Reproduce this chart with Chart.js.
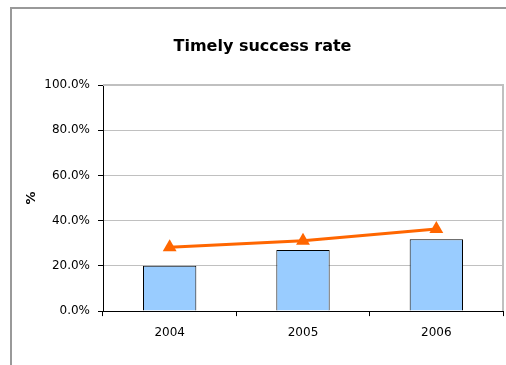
<!DOCTYPE html>
<html>
<head>
<meta charset="utf-8">
<script src="https://cdn.jsdelivr.net/npm/chart.js@4"></script>
<style>
  html, body { margin: 0; padding: 0; background: #fff; overflow: hidden; }
  canvas { display: block; }
</style>
</head>
<body>
<canvas id="chart" width="506" height="365"></canvas>
<script>
// Timely success rate, 2004-2006
const years = ['2004', '2005', '2006'];
const barValues = [20.1, 27.0, 31.8];
const lineValues = [28.2, 31.1, 36.3];
const yTicks = [0, 20, 40, 60, 80, 100];

const font = 'Tahoma, "DejaVu Sans", sans-serif';

// outer chart frame (gray, left + top) and light gray top/right plot border
const frames = {
  id: 'frames',
  beforeDraw(chart) {
    const c = chart.ctx;
    c.save();
    c.strokeStyle = '#999';
    c.lineWidth = 2;
    c.beginPath();
    c.moveTo(11, chart.height);
    c.lineTo(11, 8);
    c.lineTo(chart.width, 8);
    c.stroke();
    c.restore();
  },
  beforeDatasetsDraw(chart) {
    const a = chart.chartArea;
    const c = chart.ctx;
    c.save();
    c.strokeStyle = '#c0c0c0';
    c.lineWidth = 2;
    c.beginPath();
    c.moveTo(a.left, a.top);
    c.lineTo(a.right, a.top);
    c.lineTo(a.right, a.bottom);
    c.stroke();
    c.restore();
  }
};

new Chart(document.getElementById('chart'), {
  data: {
    labels: years,
    datasets: [
      {
        type: 'line',
        data: lineValues,
        borderColor: '#ff6600',
        backgroundColor: '#ff6600',
        borderWidth: 3,
        pointStyle: 'triangle',
        pointRadius: 8,
        pointHoverRadius: 8,
        pointBorderWidth: 0,
        tension: 0,
        order: 0
      },
      {
        type: 'bar',
        data: barValues,
        backgroundColor: '#99ccff',
        borderColor: '#000',
        borderWidth: 1,
        barPercentage: 0.4,
        categoryPercentage: 1,
        order: 1
      }
    ]
  },
  options: {
    responsive: false,
    animation: false,
    layout: { autoPadding: false, padding: { top: 0, right: 3, bottom: 15.5, left: 22 } },
    plugins: {
      legend: { display: false },
      tooltip: { enabled: false },
      title: {
        display: true,
        text: 'Timely success rate',
        color: '#000',
        font: { family: font, size: 16, weight: 'bold' },
        padding: { top: 37, bottom: 28.8 }
      }
    },
    scales: {
      x: {
        offset: true,
        grid: { offset: true, drawOnChartArea: false, tickLength: 5, color: '#000', tickColor: '#000' },
        border: { color: '#000', width: 1 },
        ticks: { color: '#000', font: { family: font, size: 12 }, padding: 9.5 }
      },
      y: {
        min: 0,
        max: 100,
        afterFit(scale) { scale.width = 81; },
        afterBuildTicks(scale) { scale.ticks = yTicks.map(v => ({ value: v })); },
        grid: { color: '#c0c0c0', lineWidth: 1, tickLength: 5, tickColor: '#000' },
        border: { color: '#000', width: 1 },
        ticks: {
          color: '#000',
          font: { family: font, size: 12 },
          padding: 8,
          callback: v => v.toFixed(1) + '%'
        },
        title: {
          display: true,
          text: '%',
          color: '#000',
          font: { family: font, size: 13, weight: 'bold' },
          padding: { top: 2, bottom: 2 }
        }
      }
    }
  },
  plugins: [frames]
});
</script>
</body>
</html>
